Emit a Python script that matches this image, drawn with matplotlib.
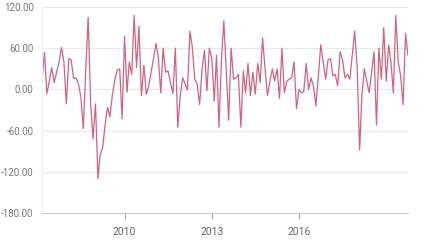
import numpy as np
import pandas as pd
import matplotlib
matplotlib.use("Agg")
import matplotlib.pyplot as plt
import matplotlib.dates as mdates
from matplotlib.ticker import FuncFormatter

plt.rcParams['font.family'] = ['Roboto', 'DejaVu Sans']

# monthly values, starting March 2007
values = [13, 54, -6, 12, 32, 10, 25, 40, 61, 40, -21, 45, 43, 16, 17, 8, -11, -57, 30, 105,
          -20, -72, -21, -130, -95, -85, -52, -26, -40, -8, 15, 28, 30, -43, 77, -4, 40, 22, 108, 32,
          92, -9, 35, -7, 5, 25, 45, 67, 47, -5, 60, 25, 27, 10, -6, 60, -55, -10, 17, 8,
          -1, 85, 62, 15, 8, -22, 30, 57, -2, 60, 45, -17, 50, -55, 40, 100, 30, -45, 60, 15,
          17, 22, -55, 27, -5, 38, -9, 25, -7, 38, 10, 75, 30, -9, 12, 30, 12, 30, -13, 60,
          -5, 12, 15, 17, 40, -28, 0, -5, -3, 38, 0, 17, 5, -24, 20, 65, 40, 15, 43, 45,
          20, 22, 5, 55, 43, 17, 22, 15, 50, 85, 32, -88, -10, 30, 12, -5, 25, 55, -52, 60,
          15, 90, 12, 65, 40, -5, 108, 40, 20, -22, 82, 50]
dates = pd.date_range("2007-03-01", periods=len(values), freq="MS")
year_ticks = ["2010-01-01", "2013-01-01", "2016-01-01"]
y_ticks = [-180, -120, -60, 0, 60, 120]

fig = plt.figure(figsize=(4.26, 2.44), dpi=100)
ax = fig.add_axes([0.0986, 0.127, 0.859, 0.844])

ax.plot(dates, values, color="#d0647c", linewidth=0.9)

ax.set_ylim(-180, 120)
ax.set_yticks(y_ticks)
ax.yaxis.set_major_formatter(FuncFormatter(lambda v, p: "%.2f" % v))
ax.set_xlim(dates[0], dates[-1])
ax.set_xticks(pd.to_datetime(year_ticks))
ax.xaxis.set_major_formatter(mdates.DateFormatter("%Y"))

ax.grid(axis="y", color="#e8e8e8", linewidth=0.8)
ax.set_axisbelow(True)
for s in ["top", "right"]:
    ax.spines[s].set_visible(False)
ax.spines["left"].set_color("#eeeeee")
ax.spines["bottom"].set_color("#cccccc")
ax.tick_params(axis="y", length=0, labelsize=7, labelcolor="#777777", pad=6)
ax.tick_params(axis="x", length=4, color="#aaaaaa", labelsize=7.5, labelcolor="#666666", pad=6)

fig.savefig("out.png", dpi=100)
